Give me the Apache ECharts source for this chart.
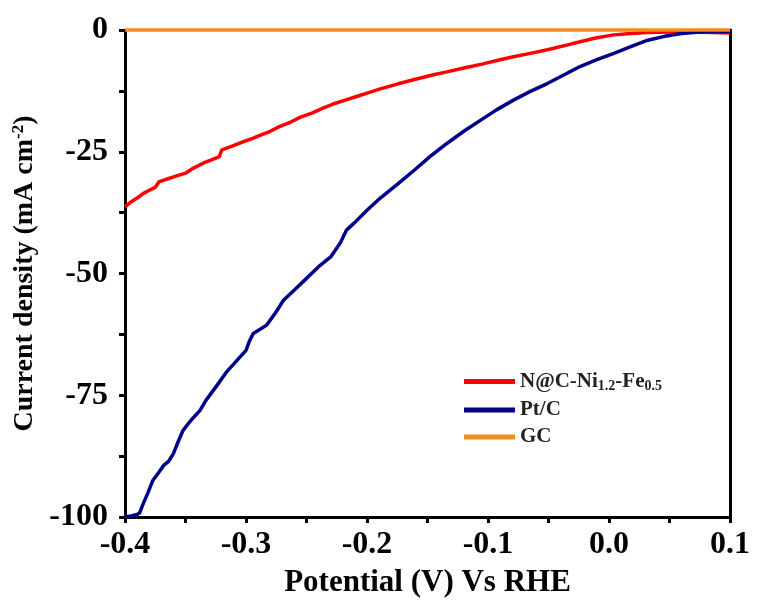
<!DOCTYPE html>
<html><head><meta charset="utf-8">
<script src="https://cdn.jsdelivr.net/npm/echarts@6/dist/echarts.min.js"></script>
<style>html,body{margin:0;padding:0;background:#fff}#c{width:759px;height:612px}</style>
</head><body><div id="c"></div>
<script>
const xTicks = [-0.4, -0.3, -0.2, -0.1, 0.0, 0.1];
const xTickLabels = ['-0.4', '-0.3', '-0.2', '-0.1', '0.0', '0.1'];
const yTicks = [0, -25, -50, -75, -100];

const nicX = [-0.400,-0.395,-0.390,-0.385,-0.380,-0.375,-0.372,-0.365,-0.358,-0.350,-0.343,-0.335,-0.328,-0.322,-0.320,-0.312,-0.303,-0.295,-0.288,-0.280,-0.272,-0.263,-0.255,-0.245,-0.236,-0.228,-0.218,-0.208,-0.198,-0.189,-0.175,-0.160,-0.145,-0.134,-0.120,-0.105,-0.090,-0.079,-0.065,-0.050,-0.035,-0.024,-0.010,0.004,0.018,0.031,0.050,0.070,0.085,0.100];
const nicY = [-36.3,-35.3,-34.5,-33.6,-32.9,-32.3,-31.2,-30.6,-30.0,-29.4,-28.3,-27.3,-26.6,-26.0,-24.6,-23.9,-23.0,-22.3,-21.6,-20.8,-19.8,-18.9,-17.9,-17.0,-16.0,-15.2,-14.4,-13.6,-12.8,-12.1,-11.1,-10.1,-9.2,-8.6,-7.8,-7.0,-6.1,-5.5,-4.8,-4.0,-3.1,-2.4,-1.6,-1.0,-0.7,-0.5,-0.4,-0.4,-0.5,-0.6];

const ptX = [-0.400,-0.395,-0.390,-0.388,-0.385,-0.381,-0.377,-0.372,-0.368,-0.364,-0.360,-0.356,-0.352,-0.347,-0.342,-0.338,-0.333,-0.327,-0.322,-0.316,-0.308,-0.300,-0.297,-0.294,-0.288,-0.283,-0.276,-0.269,-0.260,-0.250,-0.240,-0.230,-0.222,-0.217,-0.210,-0.200,-0.189,-0.175,-0.161,-0.148,-0.134,-0.120,-0.106,-0.093,-0.079,-0.065,-0.051,-0.037,-0.024,-0.010,0.004,0.018,0.032,0.046,0.060,0.075,0.087,0.100];
const ptY = [-100,-99.8,-99.5,-99.2,-97.3,-95.0,-92.5,-90.8,-89.4,-88.6,-87.0,-84.5,-82.2,-80.6,-79.2,-78.1,-76.0,-74.0,-72.3,-70.2,-68.0,-65.8,-63.8,-62.3,-61.4,-60.6,-58.2,-55.5,-53.4,-51.0,-48.6,-46.6,-43.7,-41.1,-39.5,-37.0,-34.5,-31.7,-28.8,-26.0,-23.3,-20.8,-18.5,-16.4,-14.4,-12.6,-11.0,-9.2,-7.5,-6.1,-4.8,-3.4,-2.1,-1.3,-0.7,-0.4,-0.35,-0.3];

const gcX = [-0.4, 0.1];
const gcY = [0, 0];

const names = ['N@C-Ni1.2-Fe0.5', 'Pt/C', 'GC'];
const colors = ['#ff0000', '#00008b', '#f28c1e'];

const zip = (a, b) => a.map((v, i) => [v, b[i]]);
const font = 'Liberation Serif';
const chart = echarts.init(document.getElementById('c'));
chart.setOption({
  animation: false,
  grid: {left: 125, right: 29, top: 30, bottom: 95},
  legend: {
    orient: 'vertical', left: 459, top: 366,
    itemWidth: 51, itemHeight: 5, itemGap: 6, icon: 'rect',
    data: names,
    formatter: n => n === names[0] ? '{a|N@C-Ni}{s|1.2}{a|-Fe}{s|0.5}' : '{a|' + n + '}',
    textStyle: {
      fontFamily: font, fontWeight: 'bold', color: '#222', fontSize: 21,
      rich: {
        a: {fontFamily: font, fontWeight: 'bold', color: '#222', fontSize: 21},
        s: {fontFamily: font, fontWeight: 'bold', color: '#222', fontSize: 14, verticalAlign: 'bottom', padding: [10, 0, 0, 0]}
      }
    }
  },
  xAxis: [{
    type: 'value', min: -0.4, max: 0.1, interval: 0.1, position: 'bottom',
    name: 'Potential (V) Vs RHE', nameLocation: 'middle', nameGap: 50,
    nameTextStyle: {fontFamily: font, fontWeight: 'bold', fontSize: 31, color: '#000'},
    axisLine: {onZero: false, lineStyle: {color: '#000', width: 3}},
    axisTick: {inside: false, length: 6, lineStyle: {width: 3, color: '#000'}},
    minorTick: {show: true, splitNumber: 2, length: 6, lineStyle: {width: 3, color: '#000'}},
    splitLine: {show: false},
    axisLabel: {fontFamily: font, fontWeight: 'bold', fontSize: 32, color: '#000', margin: 12,
      formatter: v => { const i = xTicks.findIndex(t => Math.abs(t - v) < 1e-6); return i >= 0 ? xTickLabels[i] : ''; }}
  }, {
    type: 'value', min: -0.4, max: 0.1, position: 'top',
    axisLine: {onZero: false, lineStyle: {color: '#555', width: 1}},
    axisTick: {show: false}, axisLabel: {show: false}, splitLine: {show: false}
  }],
  yAxis: [{
    type: 'value', min: -100, max: 0, interval: 25, position: 'left',
    name: '{a|Current density (mA cm}{s|-2}{a|)}', nameLocation: 'middle', nameGap: 82,
    nameTextStyle: {fontFamily: font, fontWeight: 'bold', fontSize: 28, color: '#000',
      rich: {
        a: {fontFamily: font, fontWeight: 'bold', fontSize: 28, color: '#000'},
        s: {fontFamily: font, fontWeight: 'bold', fontSize: 17, color: '#000', verticalAlign: 'top', padding: [0, 0, 10, 0]}
      }},
    axisLine: {onZero: false, lineStyle: {color: '#000', width: 3}},
    axisTick: {inside: false, length: 6, lineStyle: {width: 3, color: '#000'}},
    minorTick: {show: true, splitNumber: 2, length: 6, lineStyle: {width: 3, color: '#000'}},
    splitLine: {show: false},
    axisLabel: {fontFamily: font, fontWeight: 'bold', fontSize: 32, color: '#000', margin: 17,
      formatter: v => yTicks.includes(v) ? String(v) : ''}
  }, {
    type: 'value', min: -100, max: 0, position: 'right',
    axisLine: {show: true, onZero: false, lineStyle: {color: '#000', width: 3}},
    axisTick: {show: false}, axisLabel: {show: false}, splitLine: {show: false}
  }],
  series: [
    {name: names[0], type: 'line', data: zip(nicX, nicY), showSymbol: false, lineStyle: {color: colors[0], width: 3.5}, itemStyle: {color: colors[0]}, z: 3},
    {name: names[1], type: 'line', data: zip(ptX, ptY), showSymbol: false, lineStyle: {color: colors[1], width: 3.5}, itemStyle: {color: colors[1]}, z: 3},
    {name: names[2], type: 'line', data: zip(gcX, gcY), showSymbol: false, clip: false, lineStyle: {color: colors[2], width: 3.5}, itemStyle: {color: colors[2]}, z: 4}
  ]
});
</script></body></html>
